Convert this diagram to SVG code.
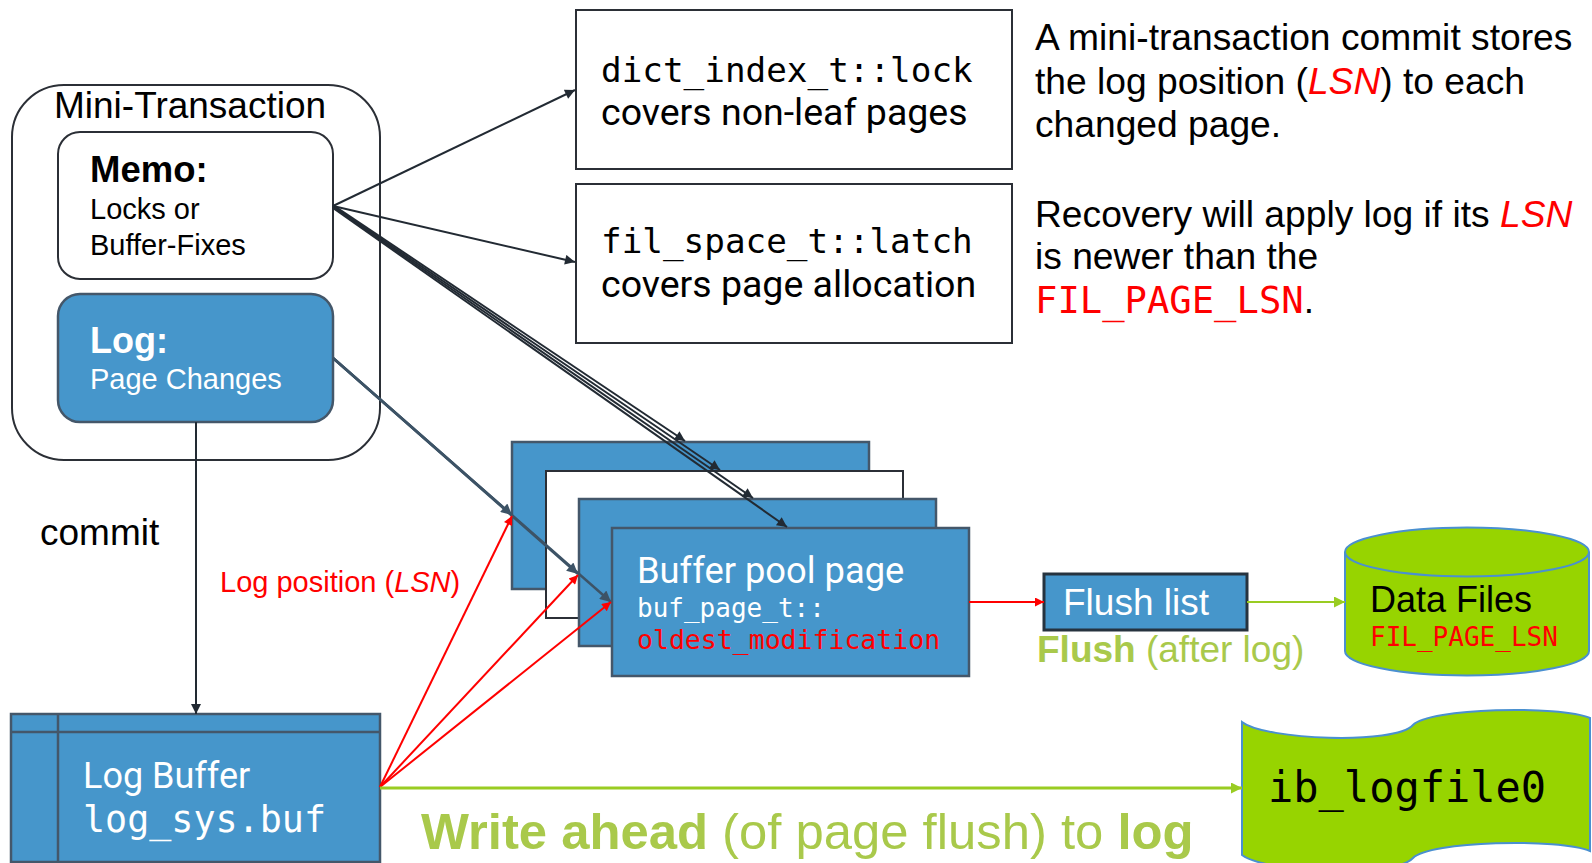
<svg xmlns="http://www.w3.org/2000/svg" width="1592" height="863" viewBox="0 0 1592 863">
<defs>
<style>
text{font-family:"Liberation Sans",Arial,sans-serif;}
.mono{font-family:"DejaVu Sans Mono","Liberation Mono",monospace;}
.rob{font-family:Roboto,"Liberation Sans",sans-serif;}
.blue{fill:#4696cb;stroke:#44576a;stroke-width:2.5;}
.wbox{fill:#ffffff;stroke:#2b2f36;stroke-width:2;}
.green{fill:#97d400;stroke:#4a90d0;stroke-width:2;}
.dk{stroke:#222a33;stroke-width:2;fill:none;}
.sl{stroke:#3d5366;stroke-width:2.5;fill:none;}
.rd{stroke:#ff0000;stroke-width:2;fill:none;}
.gr{stroke:#99cc22;stroke-width:3;fill:none;}
.olive{fill:#a9c94b;}
</style>
<marker id="ad" viewBox="0 0 10 10" refX="10" refY="5" markerWidth="13" markerHeight="10" markerUnits="userSpaceOnUse" orient="auto"><path d="M0,0L10,5L0,10z" fill="#222a33"/></marker>
<marker id="as" viewBox="0 0 10 10" refX="10" refY="5" markerWidth="14" markerHeight="11" markerUnits="userSpaceOnUse" orient="auto"><path d="M0,0L10,5L0,10z" fill="#3d5366"/></marker>
<marker id="ar" viewBox="0 0 10 10" refX="10" refY="5" markerWidth="12" markerHeight="9" markerUnits="userSpaceOnUse" orient="auto"><path d="M0,0L10,5L0,10z" fill="#ff0000"/></marker>
<marker id="ag" viewBox="0 0 10 10" refX="10" refY="5" markerWidth="13" markerHeight="11" markerUnits="userSpaceOnUse" orient="auto"><path d="M0,0L10,5L0,10z" fill="#99cc22"/></marker>
</defs>
<rect width="1592" height="863" fill="#ffffff"/>

<g id="mini-transaction">
<rect x="12" y="85" width="368" height="375" rx="52" class="wbox"/>
<text x="54" y="118" font-size="37">Mini-Transaction</text>
</g>
<g id="memo">
<rect x="58" y="132" width="275" height="147" rx="22" class="wbox"/>
<text x="90" y="182" font-size="36.5" font-weight="bold">Memo:</text>
<text x="90" y="219" font-size="29">Locks or</text>
<text x="90" y="255" font-size="29">Buffer-Fixes</text>
</g>
<g id="log">
<rect x="58" y="294" width="275" height="128" rx="22" class="blue"/>
<text x="90" y="353" font-size="36" font-weight="bold" fill="#ffffff">Log:</text>
<text x="90" y="389" font-size="29" fill="#ffffff">Page Changes</text>
</g>
<g id="commit-label">
<text x="40" y="545" font-size="37">commit</text>
</g>
<g id="lsn-label">
<text x="220" y="592" font-size="29" fill="#ff0000">Log position (<tspan font-style="italic">LSN</tspan>)</text>
</g>
<g id="dict-lock">
<rect x="576" y="10" width="436" height="159" class="wbox"/>
<text x="601" y="82" font-size="34.3" class="mono">dict_index_t::lock</text>
<text x="601" y="125" font-size="37.5" class="rob">covers non-leaf pages</text>
</g>
<g id="fil-latch">
<rect x="576" y="184" width="436" height="159" class="wbox"/>
<text x="601" y="253" font-size="34.3" class="mono">fil_space_t::latch</text>
<text x="601" y="297" font-size="37.5" class="rob">covers page allocation</text>
</g>
<g id="notes">
<text font-size="37.2">
<tspan x="1035" y="50">A mini-transaction commit stores</tspan>
<tspan x="1035" y="94">the log position (<tspan fill="#ff0000" font-style="italic">LSN</tspan>) to each</tspan>
<tspan x="1035" y="137">changed page.</tspan>
</text>
<text font-size="37.2">
<tspan x="1035" y="227">Recovery will apply log if its <tspan fill="#ff0000" font-style="italic">LSN</tspan></tspan>
<tspan x="1035" y="269">is newer than the</tspan>
<tspan x="1035" y="313"><tspan class="mono" fill="#ff0000">FIL_PAGE_LSN</tspan>.</tspan>
</text>
</g>
<g id="page-1"><rect x="512" y="442" width="357" height="147" class="blue"/></g>
<g id="page-2"><rect x="546" y="471" width="357" height="147" class="wbox"/></g>
<g id="page-3"><rect x="579" y="499" width="357" height="147" class="blue"/></g>
<g id="buffer-pool-page">
<rect x="612" y="528" width="357" height="148" class="blue"/>
<text x="637" y="583" font-size="36.3" class="rob" fill="#ffffff">Buffer pool page</text>
<text x="637" y="617" font-size="26" class="mono" fill="#ffffff">buf_page_t::</text>
<text x="637" y="649" font-size="26.5" class="mono" fill="#ff0000">oldest_modification</text>
</g>
<g id="flush-list">
<rect x="1044" y="574" width="203" height="56" fill="#4696cb" stroke="#26333f" stroke-width="3"/>
<text x="1063" y="615" font-size="37" fill="#ffffff">Flush list</text>
</g>
<g id="flush-label">
<text x="1037" y="662" font-size="37" class="olive"><tspan font-weight="bold">Flush</tspan> (after log)</text>
</g>
<g id="data-files">
<path d="M1345,552 L1345,651 A122,24.5 0 0 0 1589,651 L1589,552" class="green"/>
<ellipse cx="1467" cy="552" rx="122" ry="24.5" class="green"/>
<text x="1370" y="612" font-size="36">Data Files</text>
<text x="1370" y="646" font-size="26" class="mono" fill="#ff0000">FIL_PAGE_LSN</text>
</g>
<g id="log-buffer">
<rect x="11" y="714" width="369" height="148" class="blue"/>
<line x1="11" y1="732" x2="380" y2="732" stroke="#44576a" stroke-width="2.5"/>
<line x1="58" y1="714" x2="58" y2="862" stroke="#44576a" stroke-width="2.5"/>
<text x="83" y="788" font-size="36" class="rob" fill="#ffffff">Log Buffer</text>
<text x="83" y="832" font-size="36.7" class="mono" fill="#ffffff">log_sys.buf</text>
</g>
<g id="ib-logfile0">
<path d="M1242,722 C1265,740 1395,745 1413,725 C1428,708 1560,705 1590,718 L1590,851 C1560,838 1428,841 1413,858 C1395,878 1265,873 1242,855 Z" class="green"/>
<text x="1268" y="802" font-size="42" class="mono">ib_logfile0</text>
</g>
<g id="write-ahead-label">
<text x="421" y="849" font-size="50.8" class="olive"><tspan font-weight="bold">Write ahead</tspan> (of page flush) to <tspan font-weight="bold">log</tspan></text>
</g>

<g id="connectors">
<line x1="333" y1="206" x2="575" y2="90" class="dk" marker-end="url(#ad)"/>
<line x1="333" y1="206" x2="575" y2="262" class="dk" marker-end="url(#ad)"/>
<line x1="333" y1="205" x2="685" y2="441" class="dk" marker-end="url(#ad)"/>
<line x1="333" y1="206" x2="720" y2="470" class="dk" marker-end="url(#ad)"/>
<line x1="333" y1="207" x2="753" y2="498" class="dk" marker-end="url(#ad)"/>
<line x1="333" y1="208" x2="787" y2="527" class="dk" marker-end="url(#ad)"/>
<line x1="333" y1="358" x2="512" y2="515" class="sl" marker-end="url(#as)"/>
<line x1="333" y1="358" x2="578" y2="574" class="sl" marker-end="url(#as)"/>
<line x1="333" y1="358" x2="611" y2="602" class="sl" marker-end="url(#as)"/>
<line x1="196" y1="422" x2="196" y2="714" class="dk" marker-end="url(#ad)"/>
<line x1="380" y1="787" x2="512" y2="516" class="rd" marker-end="url(#ar)"/>
<line x1="380" y1="787" x2="578" y2="575" class="rd" marker-end="url(#ar)"/>
<line x1="380" y1="787" x2="611" y2="602" class="rd" marker-end="url(#ar)"/>
<line x1="969" y1="602" x2="1044" y2="602" class="rd" marker-end="url(#ar)"/>
<line x1="1247" y1="602" x2="1345" y2="602" stroke="#99cc22" stroke-width="2" marker-end="url(#ag)"/>
<line x1="380" y1="788" x2="1242" y2="788" class="gr" marker-end="url(#ag)"/>
</g>
</svg>
